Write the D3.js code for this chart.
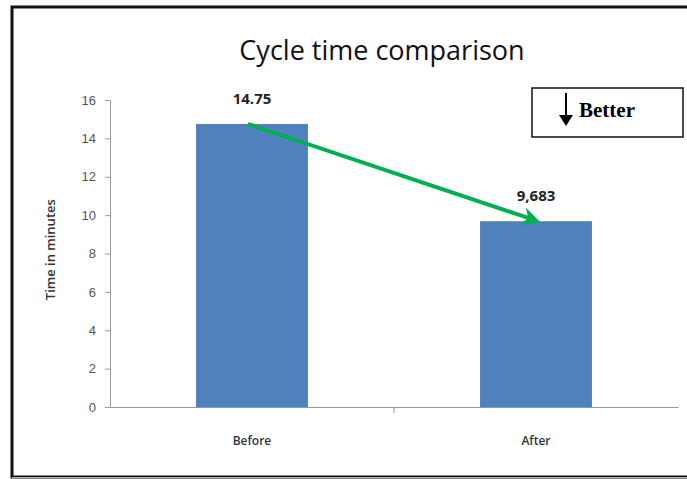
<!DOCTYPE html>
<html>
<head>
<meta charset="utf-8">
<script src="https://cdn.jsdelivr.net/npm/d3@7"></script>
<style>
  body { margin: 0; background: #fff; }
  svg { display: block; }
</style>
</head>
<body>
<div id="chart"></div>
<script>
// data
const categories = ["Before", "After"];
const values = [14.75, 9.683];
const valueLabels = ["14.75", "9,683"];
const yTicks = [0, 2, 4, 6, 8, 10, 12, 14, 16];

const W = 687, H = 479;
const margin = {top: 100, right: 9, bottom: 72, left: 110},
      width = W - margin.left - margin.right,
      height = H - margin.top - margin.bottom;

const svg = d3.select("#chart").append("svg")
    .attr("width", W)
    .attr("height", H);

// outer frame
svg.append("rect")
    .attr("x", 12).attr("y", 7)
    .attr("width", W).attr("height", 470)
    .attr("fill", "#fff")
    .attr("stroke", "#111").attr("stroke-width", 3);
svg.append("line")
    .attr("x1", 12).attr("x2", W).attr("y1", 477.5).attr("y2", 477.5)
    .attr("stroke", "#aaa").attr("stroke-width", 1);

const g = svg.append("g")
    .attr("transform", `translate(${margin.left},${margin.top})`);

const x = d3.scaleBand()
    .domain(categories)
    .range([0, width])
    .paddingInner(0.606)
    .paddingOuter(0.303);

const y = d3.scaleLinear()
    .domain([0, 16])
    .range([height, 0]);

// title
svg.append("text")
    .attr("x", 382).attr("y", 60)
    .attr("text-anchor", "middle")
    .attr("font-family", "Open Sans, Lato, sans-serif")
    .attr("font-size", 27)
    .attr("fill", "#111")
    .text("Cycle time comparison");

// y axis
const yAxis = g.append("g")
    .call(d3.axisLeft(y).tickValues(yTicks).tickSize(5).tickPadding(9));
yAxis.select(".domain").attr("stroke", "#999");
yAxis.selectAll(".tick line").attr("stroke", "#999");
yAxis.selectAll("text")
    .attr("font-family", "Liberation Sans Narrow, Liberation Sans, sans-serif")
    .attr("font-size", 13)
    .attr("fill", "#555");

// x axis
const xAxis = g.append("g")
    .attr("transform", `translate(0,${height})`)
    .call(d3.axisBottom(x).tickSize(0).tickPadding(29));
xAxis.select(".domain").attr("stroke", "#999");
xAxis.selectAll("text")
    .attr("font-family", "Open Sans, sans-serif")
    .attr("font-size", 12)
    .attr("font-weight", 600)
    .attr("fill", "#333");
// middle tick between categories
g.append("line")
    .attr("x1", width / 2).attr("x2", width / 2)
    .attr("y1", height).attr("y2", height + 6)
    .attr("stroke", "#999");

// y label
g.append("text")
    .attr("transform", `translate(-55,${y(8.2)}) rotate(-90)`)
    .attr("text-anchor", "middle")
    .attr("font-family", "Open Sans, sans-serif")
    .attr("font-size", 13)
    .attr("font-weight", 600)
    .attr("fill", "#333")
    .text("Time in minutes");

// bars
g.selectAll(".bar")
    .data(values)
    .enter()
    .append("rect")
    .attr("class", "bar")
    .attr("x", (d, i) => x(categories[i]))
    .attr("y", d => y(d))
    .attr("width", x.bandwidth())
    .attr("height", d => height - y(d))
    .attr("fill", "#4f81bd");

// value labels
g.selectAll(".val")
    .data(values)
    .enter()
    .append("text")
    .attr("class", "val")
    .attr("x", (d, i) => x(categories[i]) + x.bandwidth() / 2)
    .attr("y", d => y(d) - 20)
    .attr("text-anchor", "middle")
    .attr("font-family", "Open Sans, sans-serif")
    .attr("font-size", 15)
    .attr("font-weight", "bold")
    .attr("fill", "#222")
    .text((d, i) => valueLabels[i]);

// green trend arrow
const defs = svg.append("defs");
defs.append("marker")
    .attr("id", "ah")
    .attr("viewBox", "0 0 10 10")
    .attr("refX", 7).attr("refY", 5)
    .attr("markerWidth", 4.5).attr("markerHeight", 4.5)
    .attr("orient", "auto")
    .append("path")
    .attr("d", "M0,0 L10,5 L0,10 L3,5 z")
    .attr("fill", "#00b050");

g.append("line")
    .attr("x1", x(categories[0]) + x.bandwidth() / 2 - 4)
    .attr("y1", y(values[0]))
    .attr("x2", x(categories[1]) + x.bandwidth() / 2 - 1)
    .attr("y2", y(values[1]) - 1)
    .attr("stroke", "#00b050")
    .attr("stroke-width", 4)
    .attr("marker-end", "url(#ah)");

// "Better" box
const box = svg.append("g");
box.append("rect")
    .attr("x", 532).attr("y", 88)
    .attr("width", 151).attr("height", 49)
    .attr("fill", "#fff")
    .attr("stroke", "#111").attr("stroke-width", 1.5);
box.append("line")
    .attr("x1", 566).attr("x2", 566)
    .attr("y1", 93).attr("y2", 118)
    .attr("stroke", "#000").attr("stroke-width", 2);
box.append("path")
    .attr("d", "M559,115 L573,115 L566,126 z")
    .attr("fill", "#000");
box.append("text")
    .attr("x", 579).attr("y", 117)
    .attr("font-family", "Liberation Serif, serif")
    .attr("font-size", 21)
    .attr("font-weight", "bold")
    .attr("fill", "#000")
    .text("Better");
</script>
</body>
</html>
